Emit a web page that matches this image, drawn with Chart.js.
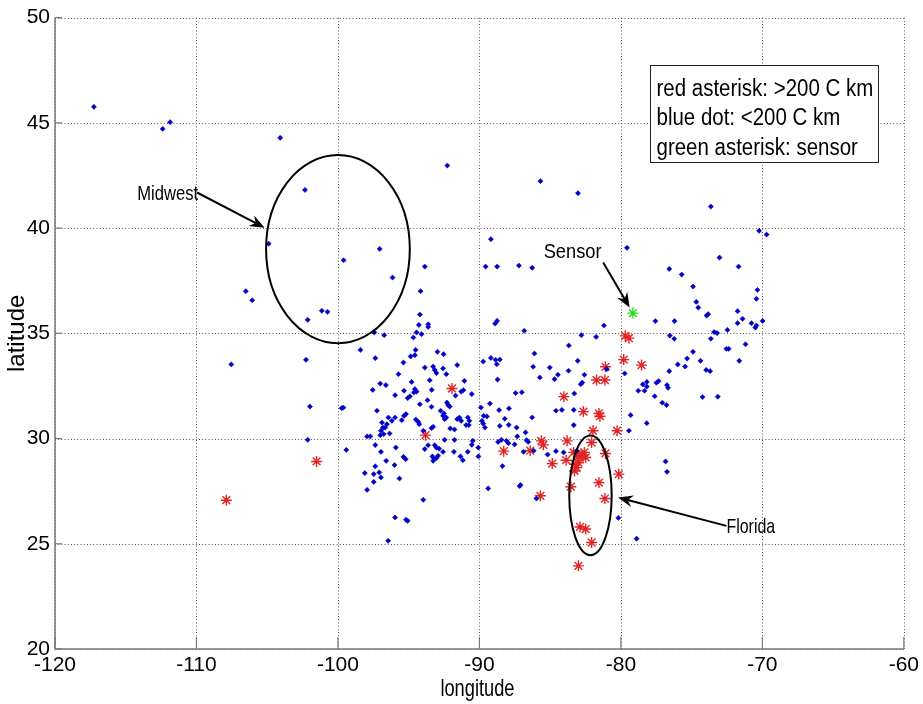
<!DOCTYPE html>
<html lang="en">
<head>
<meta charset="UTF-8">
<title>Sensor distance map</title>
<script src="https://cdn.jsdelivr.net/npm/chart.js"></script>
<style>
  html, body { margin: 0; padding: 0; background: #fff; }
  #wrap { width: 923px; height: 704px; }
</style>
</head>
<body>
<div id="wrap"><canvas id="chart" width="923" height="704"></canvas></div>
<script>
const xTicks = [-120, -110, -100, -90, -80, -70, -60];
const yTicks = [20, 25, 30, 35, 40, 45, 50];

// [longitude, latitude]
const bluePoints = [
  [-117.25,45.76],[-112.39,44.71],[-111.86,45.03],[-104.08,44.29],[-102.33,41.81],[-92.27,42.97],
  [-85.69,42.23],[-83.03,41.66],[-89.19,39.47],[-73.64,41.02],[-70.23,39.87],[-69.70,39.69],
  [-104.90,39.26],[-106.51,37.00],[-106.06,36.57],[-102.14,35.64],[-107.54,33.52],[-102.26,33.74],
  [-101.98,31.52],[-102.14,29.94],
  [-99.60,38.47],[-97.05,39.01],[-96.14,37.65],[-93.86,38.17],[-94.16,37.00],[-94.21,35.89],
  [-101.14,36.07],[-100.74,36.02],
  [-89.19,33.83],[-88.86,33.74],[-88.56,33.75],[-88.77,33.53],[-88.72,32.80],
  [-86.11,34.04],[-86.20,33.41],[-85.73,32.90],[-85.03,33.37],[-84.45,33.03],[-84.69,32.82],
  [-83.68,34.42],[-83.05,33.69],[-82.79,34.91],[-81.75,34.83],[-81.20,35.37],[-82.58,33.03],
  [-82.84,32.58],[-82.73,32.66],[-83.29,32.14],[-83.70,33.22],[-81.00,33.30],
  [-89.56,38.17],[-88.75,38.17],[-87.21,38.22],[-86.27,38.11],[-88.89,35.46],[-88.75,35.59],[-86.83,35.12],
  [-87.44,32.16],[-87.00,32.20],[-86.27,31.00],[-84.59,31.32],[-84.17,31.36],[-83.33,31.36],[-83.33,30.64],
  [-89.26,31.66],[-88.61,31.35],[-87.91,31.43],[-88.56,30.60],[-87.93,30.65],
  [-89.89,31.47],[-89.47,31.05],[-89.70,31.08],
  [-88.68,29.84],[-88.44,29.94],[-88.09,29.89],[-87.95,29.78],[-87.51,29.72],[-87.32,30.10],
  [-86.74,30.29],[-86.88,29.37],[-86.16,29.42],[-88.37,28.69],[-84.59,29.40],
  [-89.61,30.52],[-88.21,30.94],[-87.37,30.52],[-86.67,29.92],[-86.55,29.84],[-90.07,29.15],
  [-85.18,29.24],[-84.05,29.34],[-83.12,29.42],
  [-93.97,27.09],[-95.96,26.25],[-95.19,26.14],[-95.07,26.09],[-96.45,25.14],[-89.38,27.63],
  [-87.16,27.74],[-87.09,27.79],[-85.97,27.15],
  [-76.74,28.42],[-80.18,26.23],[-78.89,25.24],
  [-79.57,39.06],[-73.03,38.60],[-71.68,38.17],[-76.58,38.06],[-75.70,37.79],[-74.90,37.22],
  [-74.67,36.49],[-74.53,36.22],[-73.94,35.84],[-73.83,35.91],[-70.35,37.06],[-70.42,36.64],
  [-71.75,36.05],[-71.40,35.69],[-71.75,35.48],[-70.77,35.48],[-70.42,35.37],[-70.49,35.27],
  [-69.98,35.59],[-77.56,35.58],[-76.21,35.58],[-76.54,34.89],[-76.23,34.74],[-73.41,35.06],
  [-73.20,35.01],[-73.64,34.74],[-72.47,35.16],[-72.54,34.26],[-72.38,34.26],[-71.19,34.48],
  [-71.63,33.69],[-74.90,34.12],[-75.32,33.80],[-74.37,33.69],[-75.98,33.52],[-75.46,33.42],
  [-73.97,33.26],[-73.69,33.20],[-76.58,33.20],[-79.73,33.09],[-77.49,32.65],[-77.33,32.73],
  [-78.45,32.57],[-78.17,32.69],[-78.17,32.47],[-76.74,32.54],[-76.67,32.41],[-78.77,32.27],
  [-78.33,32.27],[-77.61,32.01],[-77.07,31.70],[-76.77,31.59],[-74.23,31.97],[-73.15,31.99],
  [-79.31,31.11],[-78.17,30.73],[-79.43,30.37],[-76.84,28.91],
  [-94.28,35.40],[-93.62,35.43],[-93.62,35.30],[-94.44,35.04],[-94.09,34.96],[-94.67,34.80],
  [-96.73,34.91],[-97.43,35.04],[-98.41,34.21],[-97.36,33.82],[-94.51,34.21],[-94.56,33.96],
  [-94.86,33.90],[-95.37,33.61],[-92.97,34.12],[-92.53,34.01],[-93.86,33.37],[-93.27,33.42],
  [-93.16,33.26],[-93.04,33.11],[-92.57,33.33],[-91.57,33.49],[-95.72,33.06],[-93.51,32.77],
  [-92.34,33.06],[-91.06,32.74],[-94.79,32.69],[-97.01,32.61],[-96.61,32.54],[-97.54,32.31],
  [-95.33,32.27],[-94.56,32.35],[-94.44,32.23],[-94.63,32.19],[-95.07,31.92],[-94.91,32.01],
  [-95.96,32.06],[-93.37,32.31],[-91.29,32.23],[-91.13,32.30],[-90.54,32.11],[-91.69,32.04],
  [-94.21,31.63],[-93.67,31.82],[-92.29,31.71],[-92.22,31.60],[-92.10,31.52],[-93.39,31.51],
  [-92.50,31.19],[-92.74,31.32],[-92.57,31.08],[-92.46,30.92],[-92.34,31.00],[-97.24,31.32],
  [-99.74,31.44],[-99.62,31.47],[-95.96,31.00],[-96.19,30.84],[-96.43,31.00],[-96.54,30.68],
  [-96.66,30.52],[-96.89,30.76],[-96.82,30.52],[-96.96,30.37],[-95.33,31.08],[-95.19,31.16],
  [-95.49,30.87],[-94.49,30.90],[-94.32,30.79],[-94.25,30.68],[-93.27,30.56],[-93.39,30.49],
  [-93.97,30.37],[-92.06,30.48],[-91.57,30.92],[-91.41,31.00],[-91.29,30.84],[-90.82,31.00],
  [-90.71,30.84],[-90.94,30.64],[-90.75,30.64],[-91.76,30.43],[-89.82,30.84],[-89.73,30.71],
  [-89.73,33.66],[-97.94,30.10],[-97.71,30.10],[-97.01,30.16],[-96.77,30.21],[-96.35,30.24],
  [-97.36,29.69],[-96.96,29.37],[-96.59,28.94],[-95.91,29.57],[-96.00,28.74],[-95.37,29.13],
  [-95.21,29.02],[-95.65,28.10],[-98.10,28.36],[-97.47,28.31],[-97.08,28.39],[-96.96,28.15],
  [-97.47,27.94],[-97.94,27.56],[-99.41,29.46],[-93.62,29.68],[-93.86,29.50],[-93.16,29.68],
  [-93.04,29.57],[-92.85,29.52],[-92.57,29.37],[-93.32,29.15],[-93.20,29.05],[-93.27,28.94],
  [-93.04,29.07],[-92.92,29.18],[-91.80,29.37],[-91.34,29.15],[-91.17,28.97],[-90.82,29.37],
  [-90.47,29.89],[-90.54,29.70],[-90.08,29.57],[-91.76,29.94],[-92.46,29.94],[-97.36,28.68]
];

const redPoints = [
  [-107.89,27.07],[-101.51,28.91],[-91.94,32.38],[-93.81,30.16],[-88.28,29.40],[-86.41,29.42],
  [-85.62,29.89],[-85.48,29.70],[-84.85,28.81],[-83.87,28.97],[-83.80,29.89],[-84.03,31.99],
  [-82.65,31.28],[-81.55,31.19],[-81.48,31.06],[-81.97,30.37],[-81.09,33.41],[-81.72,32.78],
  [-81.13,32.78],[-81.09,29.29],[-79.69,34.88],[-79.43,34.77],[-79.80,33.75],[-78.54,33.49],
  [-80.27,30.37],[-80.15,28.31],[-81.55,27.91],[-81.13,27.15],[-82.07,29.81],
  [-83.34,29.34],[-83.12,29.26],[-82.89,29.10],[-82.58,29.34],[-82.49,29.10],[-83.24,28.78],
  [-83.12,28.62],[-83.28,28.46],[-83.00,28.85],[-82.77,29.17],
  [-83.54,27.71],[-82.89,25.80],[-82.49,25.70],[-82.07,25.06],[-83.00,23.95],[-85.69,27.28]
];

const sensorPoints = [[-79.15, 35.96]];

const legendLines = ['red asterisk: >200 C km', 'blue dot: <200 C km', 'green asterisk: sensor'];

// annotations, in data coordinates
const ellipses = [
  { cx: -100.0, cy: 39.0, rx: 5.08, ry: 4.47 },
  { cx: -82.15, cy: 27.3, rx: 1.5, ry: 2.84 }
];
const arrows = [
  { from: [-109.96, 41.69], to: [-105.18, 40.02] },
  { from: [-81.25, 38.36], to: [-79.38, 36.22] },
  { from: [-72.54, 25.85], to: [-80.20, 27.20] }
];
const labels = [
  { text: 'Midwest', x: -114.19, y: 41.34, size: 21, sx: 0.79 },
  { text: 'Sensor', x: -85.46, y: 38.60, size: 21, sx: 0.87 },
  { text: 'Florida', x: -72.54, y: 25.49, size: 21, sx: 0.76 }
];
const legendBox = { left: -77.91, top: 47.75, right: -61.81, bottom: 43.16 };

const FONT = '"Liberation Sans", Arial, sans-serif';

const toXY = pairs => pairs.map(p => ({ x: p[0], y: p[1] }));

// MATLAB export looks horizontally squeezed; narrow the hand drawn text to match
function squeezedText(ctx, text, x, y, sx) {
  ctx.save();
  ctx.translate(x, y);
  ctx.scale(sx, 1);
  ctx.fillText(text, 0, 0);
  ctx.restore();
}

const overlay = {
  id: 'overlay',
  beforeDatasetsDraw(chart) {
    const { ctx, chartArea: a, scales: { x, y } } = chart;
    ctx.save();
    ctx.strokeStyle = '#555';
    ctx.lineWidth = 1;
    ctx.setLineDash([1, 2.2]);
    xTicks.forEach(v => {
      const px = Math.round(x.getPixelForValue(v)) + 0.5;
      ctx.beginPath(); ctx.moveTo(px, a.top); ctx.lineTo(px, a.bottom); ctx.stroke();
    });
    yTicks.forEach(v => {
      const py = Math.round(y.getPixelForValue(v)) + 0.5;
      ctx.beginPath(); ctx.moveTo(a.left, py); ctx.lineTo(a.right, py); ctx.stroke();
    });
    ctx.setLineDash([]);
    // axes on left and bottom with inner ticks
    ctx.strokeStyle = '#7a7a7a';
    ctx.lineWidth = 1.5;
    ctx.beginPath();
    ctx.moveTo(a.left, a.top); ctx.lineTo(a.left, a.bottom); ctx.lineTo(a.right, a.bottom);
    ctx.stroke();
    ctx.lineWidth = 1.2;
    yTicks.forEach(v => {
      const py = y.getPixelForValue(v);
      ctx.beginPath(); ctx.moveTo(a.left, py); ctx.lineTo(a.left + 7, py); ctx.stroke();
    });
    xTicks.forEach(v => {
      const px = x.getPixelForValue(v);
      ctx.beginPath(); ctx.moveTo(px, a.bottom); ctx.lineTo(px, a.bottom - 12); ctx.stroke();
    });
    // x axis title
    ctx.fillStyle = '#000';
    ctx.font = '24px ' + FONT;
    ctx.textAlign = 'center';
    ctx.textBaseline = 'alphabetic';
    squeezedText(ctx, 'longitude', (a.left + a.right) / 2 - 2, 696, 0.76);
    ctx.restore();
  },
  afterDatasetsDraw(chart) {
    const { ctx, scales: { x, y } } = chart;
    ctx.save();
    ctx.strokeStyle = '#000';
    ctx.fillStyle = '#000';
    ctx.lineWidth = 2;
    ellipses.forEach(e => {
      const cx = x.getPixelForValue(e.cx), cy = y.getPixelForValue(e.cy);
      const rx = Math.abs(x.getPixelForValue(e.cx + e.rx) - cx);
      const ry = Math.abs(y.getPixelForValue(e.cy + e.ry) - cy);
      ctx.beginPath(); ctx.ellipse(cx, cy, rx, ry, 0, 0, Math.PI * 2); ctx.stroke();
    });
    arrows.forEach(ar => {
      const x0 = x.getPixelForValue(ar.from[0]), y0 = y.getPixelForValue(ar.from[1]);
      const x1 = x.getPixelForValue(ar.to[0]), y1 = y.getPixelForValue(ar.to[1]);
      const ang = Math.atan2(y1 - y0, x1 - x0);
      const len = 15, half = 6, notch = 10;
      ctx.beginPath();
      ctx.moveTo(x0, y0);
      ctx.lineTo(x1 - Math.cos(ang) * notch, y1 - Math.sin(ang) * notch);
      ctx.stroke();
      const bx = x1 - Math.cos(ang) * len, by = y1 - Math.sin(ang) * len;
      const nx = -Math.sin(ang), ny = Math.cos(ang);
      ctx.beginPath();
      ctx.moveTo(x1, y1);
      ctx.lineTo(bx + nx * half, by + ny * half);
      ctx.lineTo(x1 - Math.cos(ang) * notch, y1 - Math.sin(ang) * notch);
      ctx.lineTo(bx - nx * half, by - ny * half);
      ctx.closePath();
      ctx.fill();
    });
    ctx.textBaseline = 'alphabetic';
    ctx.textAlign = 'left';
    labels.forEach(l => {
      ctx.font = l.size + 'px ' + FONT;
      squeezedText(ctx, l.text, x.getPixelForValue(l.x), y.getPixelForValue(l.y), l.sx);
    });
    // text box
    const bl = Math.round(x.getPixelForValue(legendBox.left)) + 0.5;
    const bt = Math.round(y.getPixelForValue(legendBox.top)) + 0.5;
    const br = Math.round(x.getPixelForValue(legendBox.right)) + 0.5;
    const bb = Math.round(y.getPixelForValue(legendBox.bottom)) + 0.5;
    ctx.fillStyle = '#fff';
    ctx.fillRect(bl, bt, br - bl, bb - bt);
    ctx.strokeStyle = '#222';
    ctx.lineWidth = 1;
    ctx.strokeRect(bl, bt, br - bl, bb - bt);
    ctx.fillStyle = '#000';
    ctx.font = '23px ' + FONT;
    legendLines.forEach((t, i) => squeezedText(ctx, t, bl + 6, bt + 30 + i * 29.7, 0.89));
    ctx.restore();
  }
};

new Chart(document.getElementById('chart'), {
  type: 'scatter',
  data: {
    datasets: [
      {
        label: 'blue dot: <200 C km',
        data: toXY(bluePoints),
        pointStyle: 'rectRot',
        radius: 2.6,
        backgroundColor: '#0000c8',
        borderColor: '#0000c8',
        borderWidth: 0.5
      },
      {
        label: 'red asterisk: >200 C km',
        data: toXY(redPoints),
        pointStyle: 'star',
        radius: 5.5,
        borderColor: '#e02424',
        backgroundColor: '#e02424',
        borderWidth: 1.4
      },
      {
        label: 'green asterisk: sensor',
        data: toXY(sensorPoints),
        pointStyle: 'star',
        radius: 5.5,
        borderColor: '#22dd22',
        backgroundColor: '#22dd22',
        borderWidth: 1.4
      }
    ]
  },
  options: {
    responsive: false,
    animation: false,
    events: [],
    layout: { padding: { top: 17, right: 11, left: 0, bottom: 0 } },
    plugins: { legend: { display: false }, tooltip: { enabled: false } },
    scales: {
      x: {
        type: 'linear',
        min: -120, max: -60,
        afterBuildTicks: s => { s.ticks = xTicks.map(v => ({ value: v })); },
        afterFit: s => { s.height = 55; },
        grid: { display: false, drawTicks: false },
        border: { display: false },
        ticks: { color: '#000', padding: 4, font: { family: FONT, size: 21 }, maxRotation: 0 },
        title: { display: false }
      },
      y: {
        type: 'linear',
        min: 20, max: 50,
        afterBuildTicks: s => { s.ticks = yTicks.map(v => ({ value: v })); },
        afterFit: s => { s.width = 55; },
        grid: { display: false, drawTicks: false },
        border: { display: false },
        ticks: { color: '#000', padding: 5, font: { family: FONT, size: 21 } },
        title: { display: true, text: 'latitude', color: '#000', padding: { top: 3, bottom: 0 },
                 font: { family: FONT, size: 24 } }
      }
    }
  },
  plugins: [overlay]
});
</script>
</body>
</html>
